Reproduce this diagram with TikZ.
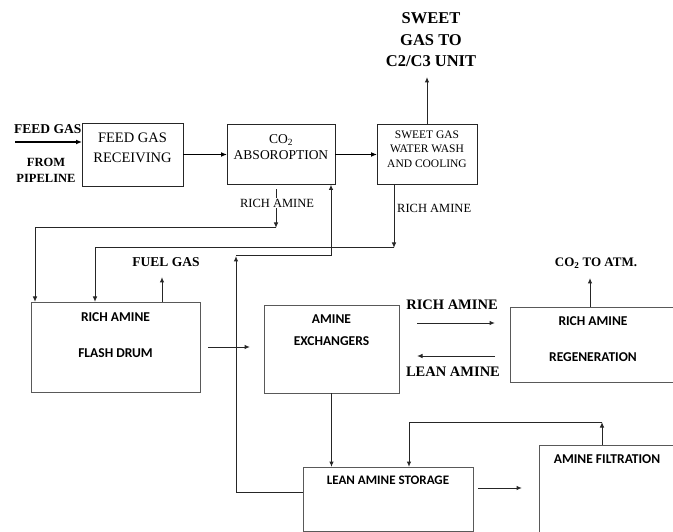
\documentclass[tikz,border=0pt]{standalone}
\usepackage{fontspec}
\setmainfont{Liberation Serif}
\newfontfamily\drumfont{Carlito}
\usepackage{tikz}
\usetikzlibrary{arrows.meta,positioning,calc}
\tikzset{
  pfd/unit/.style={draw=black!85, line width=0.8pt, inner sep=0pt, outer sep=0pt},
  pfd/vessel/.style={draw=black!65, line width=0.9pt, inner sep=0pt, outer sep=0pt},
  pfd/intext/.style={anchor=north, yshift=-9.5pt, inner sep=0pt, align=center},
  pfd/serif/.style={font=\fontsize{14.5}{20}\selectfont},
  pfd/sans/.style={font=\drumfont\bfseries\fontsize{13.5}{16}\selectfont},
  pfd/tag/.style={font=\bfseries\fontsize{13.5}{16}\selectfont, align=center, inner sep=1pt},
  pfd/note/.style={font=\fontsize{12.5}{15}\selectfont, inner sep=1pt, fill=white},
  pfd/feed/.style={line width=1.5pt, -{Latex[length=6pt,width=5pt]}},
  pfd/flow/.style={line width=1pt, draw=black!85, -{Latex[length=5.5pt,width=4.5pt]}}
}

\begin{document}
\begin{tikzpicture}[x=1pt, y=-1pt, node distance=44pt]
  \useasboundingbox (0,0) rectangle (673,532);
  \clip (0,0) rectangle (673,532);

  \node[pfd/unit, minimum width=101pt, minimum height=63pt,
    label={[pfd/intext, pfd/serif]north:FEED GAS\\RECEIVING}] (recv) at (132.5,154.5) {};
  \node[pfd/unit, minimum width=108pt, minimum height=60pt, right=44pt of recv,
    label={[pfd/intext, font=\fontsize{13.5}{16}\selectfont]north:CO\textsubscript{2}\\ABSOROPTION}] (absorb) {};
  \node[pfd/unit, minimum width=100pt, minimum height=60pt, right=42pt of absorb,
    label={[pfd/intext, yshift=3.5pt, font=\fontsize{11.5}{14.5}\selectfont]north:SWEET GAS\\WATER WASH\\AND COOLING}] (wash) {};

  \node[pfd/tag, font=\bfseries\fontsize{16.5}{21.5}\selectfont] (sweetlbl) at (431,40) {SWEET\\GAS TO\\C2/C3 UNIT};
  \node[pfd/tag, anchor=west] (feedlbl) at (13,129) {FEED GAS};
  \node[pfd/tag, font=\bfseries\fontsize{12.5}{16}\selectfont] (pipelbl) at (46,170) {FROM\\PIPELINE};

  \coordinate (feedin) at (15,142);
  \coordinate (sweetout) at (427,77);
  \draw[pfd/feed] (feedin) -- (feedin -| recv.west);
  \draw[pfd/feed] (recv.east) -- (absorb.west);
  \draw[pfd/feed] (absorb.east) -- (wash.west);
  \draw[pfd/flow] (wash.north) -- (sweetout);

  \node[pfd/vessel, minimum width=169pt, minimum height=90pt,
    label={[pfd/intext, pfd/sans, yshift=-1pt]north:RICH AMINE\\[20pt]FLASH DRUM}] (flash) at (115.5,347) {};
  \node[pfd/vessel, minimum width=135pt, minimum height=88pt,
    label={[pfd/intext, pfd/sans]north:AMINE\\[6pt]EXCHANGERS}] (exch) at (331.5,349) {};
  \node[pfd/vessel, minimum width=166pt, minimum height=75pt,
    label={[pfd/intext, pfd/sans]north:RICH AMINE\\[20pt]REGENERATION}] (regen) at (593,344.5) {};
  \node[pfd/vessel, minimum width=170pt, minimum height=64pt,
    label={[pfd/intext, pfd/sans, yshift=1pt, font=\drumfont\bfseries\fontsize{13}{16}\selectfont]north:LEAN AMINE STORAGE}] (store) at (388,499) {};
  \node[pfd/vessel, minimum width=136pt, minimum height=115pt,
    label={[pfd/intext, pfd/sans]north:AMINE FILTRATION}] (filt) at (607,502.5) {};

  \coordinate (ra1) at (276,228);
  \coordinate (ra2) at (394,248);
  \coordinate (fd2) at ($(flash.north west)+(64,0)$);
  \draw[pfd/flow, shorten <=5pt] (absorb.south -| ra1) -- (ra1);
  \draw[pfd/flow] (ra1) -| ([xshift=4pt]flash.north west);
  \node[pfd/note] (ralbl1) at (277,203) {RICH AMINE};
  \draw[pfd/flow] (wash.south -| ra2) -- (ra2);
  \draw[pfd/flow] (ra2) -| (fd2);
  \node[pfd/note, fill=none, anchor=west] (ralbl2) at (396,208) {RICH AMINE};

  \coordinate (fuel) at (162,277);
  \draw[pfd/flow] (flash.north -| fuel) -- (fuel);
  \node[pfd/tag] (fuellbl) at (166,262) {FUEL GAS};
  \draw[pfd/flow, shorten <=8pt, shorten >=14pt] (flash.east) -- (flash.east -| exch.west);

  \coordinate (la1) at (236,256);
  \draw[pfd/flow] ([yshift=7pt]store.west) -| (la1);
  \draw[pfd/flow] (la1) -| ([xshift=-4pt]absorb.south east);
  \draw[pfd/flow] (exch.south) -- (exch.south |- store.north);

  \coordinate (ra3) at ([yshift=26pt]exch.east);
  \coordinate (la3) at ([yshift=-7pt]exch.east);
  \draw[pfd/flow, shorten <=18pt, shorten >=15pt] (ra3) -- (ra3 -| regen.west);
  \draw[pfd/flow, shorten <=15pt, shorten >=18pt] (la3 -| regen.west) -- (la3);
  \node[pfd/tag, font=\bfseries\fontsize{14.5}{16}\selectfont] (richlbl) at (452,305) {RICH AMINE};
  \node[pfd/tag, font=\bfseries\fontsize{14.5}{16}\selectfont] (leanlbl) at (453,372) {LEAN AMINE};

  \coordinate (co2out) at (590,278);
  \draw[pfd/flow] (regen.north -| co2out) -- (co2out);
  \node[pfd/tag, font=\bfseries\fontsize{13}{16}\selectfont] (co2lbl) at (596,263) {CO\textsubscript{2} TO ATM.};

  \coordinate (sf) at ([yshift=11pt]store.east);
  \draw[pfd/flow, shorten <=5pt, shorten >=17pt] (sf) -- (sf -| filt.west);
  \coordinate (fl1) at (602,422);
  \draw[pfd/flow] (filt.north -| fl1) -- (fl1);
  \draw[pfd/flow] (fl1) -| ([xshift=21pt]store.north);
\end{tikzpicture}
\end{document}
